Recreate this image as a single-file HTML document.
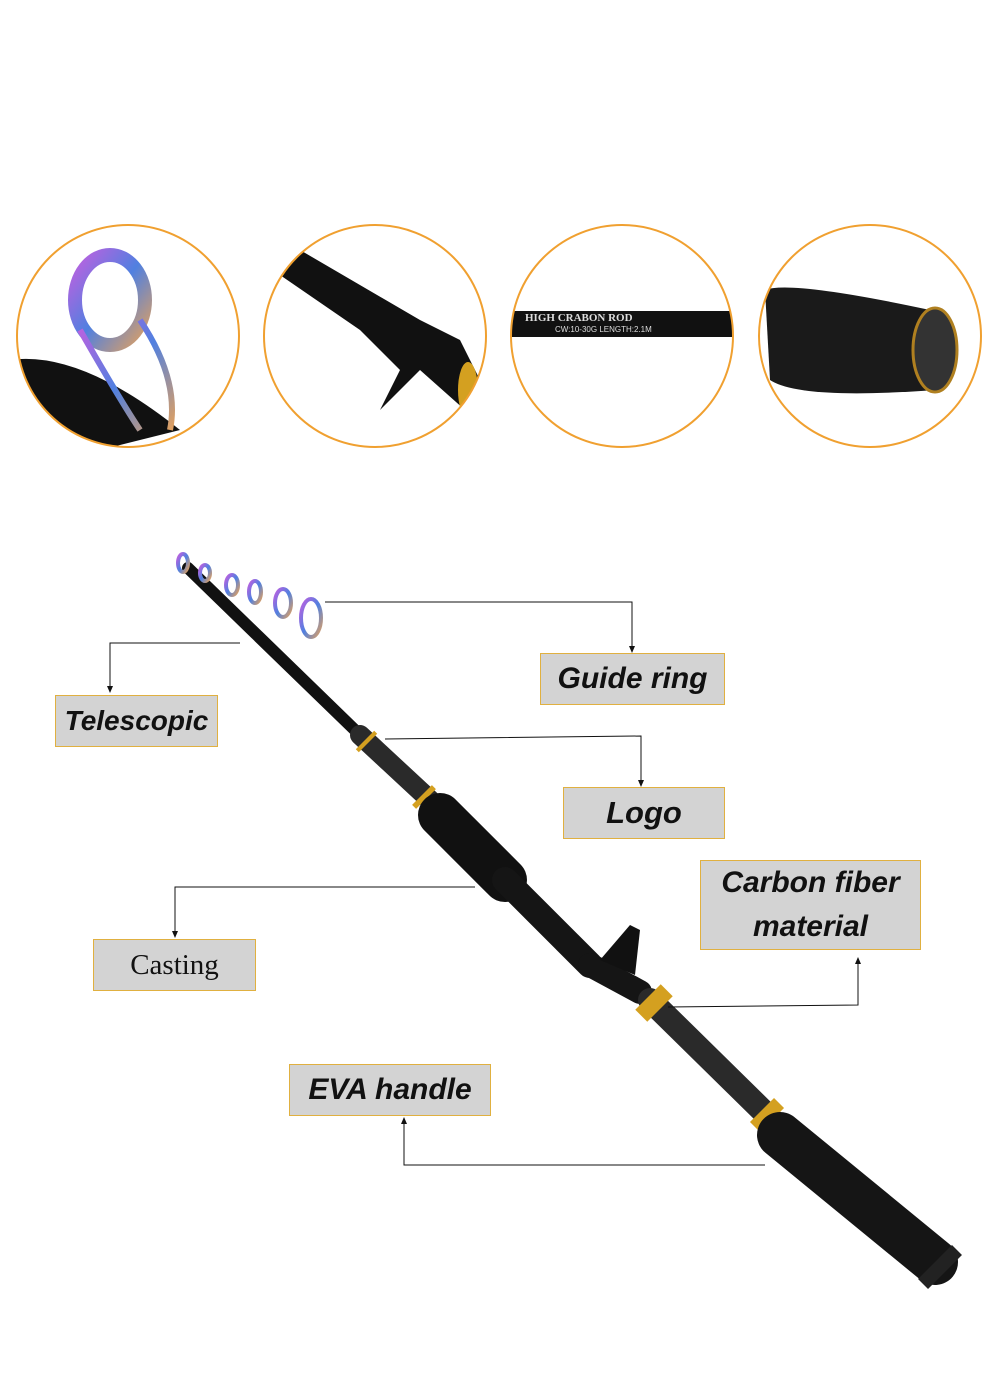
<!DOCTYPE html>
<html><head><style>
body{margin:0;width:1000px;height:1375px;background:#fff;position:relative;overflow:hidden;font-family:"Liberation Sans",sans-serif}
.b{position:absolute;background:#d3d3d3;border:1.5px solid #e0b040;box-sizing:border-box;text-align:center;color:#111;font-weight:bold;font-style:italic;font-size:31px;letter-spacing:0}
</style></head><body>
<svg width="1000" height="1375" style="position:absolute;left:0;top:0">
<defs>
<clipPath id="c1"><circle cx="128" cy="336" r="111"/></clipPath>
<clipPath id="c2"><circle cx="375" cy="336" r="111"/></clipPath>
<clipPath id="c3"><circle cx="622" cy="336" r="111"/></clipPath>
<clipPath id="c4"><circle cx="870" cy="336" r="111"/></clipPath>
<linearGradient id="rb" x1="0" y1="0" x2="1" y2="1"><stop offset="0" stop-color="#c060e0"/><stop offset=".5" stop-color="#5080e0"/><stop offset="1" stop-color="#e0a060"/></linearGradient>
</defs>
<g clip-path="url(#c1)">
<path d="M10 360 Q80 350 180 430 L60 460 Z" fill="#111"/>
<ellipse cx="110" cy="300" rx="35" ry="45" fill="none" stroke="url(#rb)" stroke-width="14"/>
<path d="M140 320 Q180 380 170 430 M80 330 Q120 400 140 430" stroke="url(#rb)" stroke-width="6" fill="none"/>
</g>
<g clip-path="url(#c2)">
<path d="M280 275 L300 250 L420 320 L460 340 L480 380 L465 410 L420 370 L380 410 L400 370 L360 330 Z" fill="#111"/>
<ellipse cx="468" cy="390" rx="10" ry="28" fill="#d4a020"/>
</g>
<g clip-path="url(#c3)">
<rect x="505" y="311" width="240" height="26" fill="#111"/>
<text x="525" y="321" font-family="Liberation Serif" font-size="11" fill="#ddd" font-weight="bold">HIGH CRABON ROD</text>
<text x="555" y="332" font-size="8" fill="#ddd">CW:10-30G  LENGTH:2.1M</text>
</g>
<g clip-path="url(#c4)">
<path d="M765 290 Q790 280 930 310 L935 390 Q800 400 770 380 Z" fill="#1a1a1a"/>
<ellipse cx="935" cy="350" rx="22" ry="42" fill="#333" stroke="#b08020" stroke-width="3"/>
</g>
<g fill="none" stroke="#f0a030" stroke-width="2">
<circle cx="128" cy="336" r="111"/><circle cx="375" cy="336" r="111"/><circle cx="622" cy="336" r="111"/><circle cx="870" cy="336" r="111"/>
</g>
<!-- rod -->
<g stroke-linecap="round">
<line x1="188" y1="568" x2="360" y2="735" stroke="#111" stroke-width="12"/>
<line x1="360" y1="735" x2="430" y2="800" stroke="#2a2a2a" stroke-width="20"/>
<line x1="365" y1="740" x2="368" y2="743" stroke="#d4a020" stroke-width="26" stroke-linecap="butt"/>
<line x1="422" y1="795" x2="426" y2="799" stroke="#d4a020" stroke-width="28" stroke-linecap="butt"/>
<line x1="440" y1="815" x2="505" y2="880" stroke="#111" stroke-width="44"/>
<path d="M505 880 L590 965" stroke="#151515" stroke-width="26"/>
<path d="M590 965 L640 992" stroke="#151515" stroke-width="24"/>
<path d="M600 960 L630 925 L640 930 L635 975 Z" fill="#111"/>
<line x1="650" y1="1000" x2="770" y2="1118" stroke="#2a2a2a" stroke-width="24"/>
<line x1="648" y1="997" x2="660" y2="1009" stroke="#d4a020" stroke-width="36" stroke-linecap="butt"/>
<line x1="762" y1="1110" x2="772" y2="1120" stroke="#d4a020" stroke-width="34" stroke-linecap="butt"/>
<line x1="780" y1="1135" x2="935" y2="1262" stroke="#151515" stroke-width="46"/>
<line x1="935" y1="1262" x2="945" y2="1272" stroke="#222" stroke-width="48" stroke-linecap="butt"/>
</g>
<g fill="none" stroke="url(#rb)" stroke-width="4">
<ellipse cx="183" cy="563" rx="5" ry="9"/><ellipse cx="205" cy="573" rx="5" ry="8"/><ellipse cx="232" cy="585" rx="6" ry="10"/><ellipse cx="255" cy="592" rx="6" ry="11"/><ellipse cx="283" cy="603" rx="8" ry="14"/><ellipse cx="311" cy="618" rx="10" ry="19"/>
</g>
<!-- connectors -->
<g stroke="#111" stroke-width="1" fill="none">
<polyline points="325,602 632,602 632,648"/>
<polyline points="240,643 110,643 110,688"/>
<polyline points="385,739 641,736 641,782"/>
<polyline points="475,887 175,887 175,933"/>
<polyline points="668,1007 858,1005 858,962"/>
<polyline points="765,1165 404,1165 404,1122"/>
</g>
<g fill="#111">
<path d="M629 646 L635 646 L632 653Z"/><path d="M107 686 L113 686 L110 693Z"/><path d="M638 780 L644 780 L641 787Z"/><path d="M172 931 L178 931 L175 938Z"/><path d="M855 964 L861 964 L858 957Z"/><path d="M401 1124 L407 1124 L404 1117Z"/>
</g>
</svg>
<div class="b" style="left:55px;top:695px;width:163px;height:52px;line-height:50px;font-size:28px">Telescopic</div>
<div class="b" style="left:540px;top:653px;width:185px;height:52px;line-height:50px;font-size:30px">Guide ring</div>
<div class="b" style="left:563px;top:787px;width:162px;height:52px;line-height:50px">Logo</div>
<div class="b" style="left:700px;top:860px;width:221px;height:90px;line-height:44px;font-size:30px">Carbon fiber<br>material</div>
<div class="b" style="left:93px;top:939px;width:163px;height:52px;line-height:50px;font-family:'Liberation Serif',serif;font-style:normal;font-weight:normal;font-size:29px">Casting</div>
<div class="b" style="left:289px;top:1064px;width:202px;height:52px;line-height:50px;font-size:30px">EVA handle</div>
</body></html>
